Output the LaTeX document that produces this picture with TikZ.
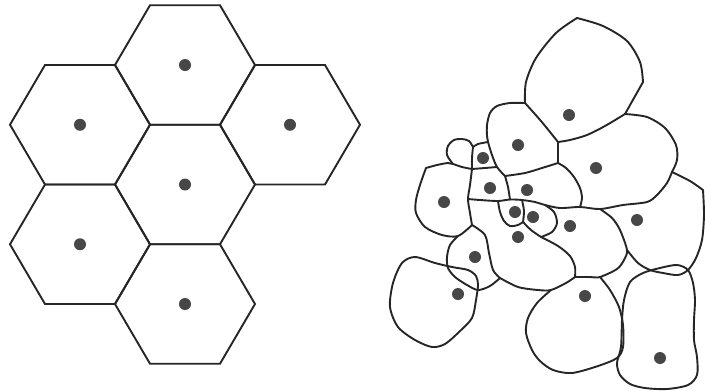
\documentclass[tikz,border=0pt]{standalone}
\usepackage{tikz}

\begin{document}
\begin{tikzpicture}[
    x=0.025cm, y=-0.025cm,
    hexcell/.style={draw=black!85, line width=1.35pt, line join=miter},
    cell/.style={draw=black!85, line width=1.35pt, line join=round, line cap=round},
    site/.style={circle, fill=black!72, inner sep=0pt, minimum size=0.3cm}
]
\useasboundingbox (0,0) rectangle (705,390);

\foreach \n/\x/\y in {a/185/65, b/80/124.75, c/290/124.75, d/185/184.5, e/80/244.25, f/185/304} {
    \draw[hexcell] (\x,\y) ++(-70,0) -- ++(35,-59.75) -- ++(70,0) -- ++(35,59.75) -- ++(-35,59.75) -- ++(-70,0) -- cycle;
    \node[site] (hex\n) at (\x,\y) {};
}

\coordinate (jA) at (525,103);
\coordinate (jB) at (558,142);
\coordinate (jC) at (625,114);
\coordinate (jE) at (558,163);
\coordinate (jF) at (505,176);
\coordinate (jG) at (672,172);
\coordinate (jH) at (600,209);
\coordinate (jI) at (580,207);
\coordinate (jJ) at (545,205);
\coordinate (jK) at (522,200);
\coordinate (jL) at (510,199.5);
\coordinate (jM) at (498,201);
\coordinate (jN) at (468,199);
\coordinate (jO) at (472,169);
\coordinate (jP) at (473,147);
\coordinate (jQ) at (488,142);
\coordinate (jR) at (497,167);
\coordinate (jS) at (453,164);
\coordinate (jT) at (523,222);
\coordinate (jU) at (541,237);
\coordinate (jV) at (575,277);
\coordinate (jW) at (600,277);
\coordinate (jX) at (627,250);
\coordinate (jY) at (703,190);
\coordinate (jZ) at (472,225);
\coordinate (j1) at (458,236);
\coordinate (j2) at (500,278);
\coordinate (j3) at (551,290);

\draw[cell] plot[smooth] coordinates {(jA) (526,82) (536,58) (556,33) (577,18)};
\draw[cell] plot[smooth] coordinates {(577,18) (603,26) (627,41) (640,62) (643,82)};
\draw[cell] (643,82) -- (jC);
\draw[cell] plot[smooth] coordinates {(jC) (605,126) (587,135) (570,140) (jB)};
\draw[cell] plot[smooth] coordinates {(jA) (541,121) (jB)};
\draw[cell] (jB) -- (jE);
\draw[cell] plot[smooth] coordinates {(jC) (647,117) (665,128) (676,145) (677,160) (jG)};

\draw[cell] plot[smooth] coordinates {(jA) (510,103) (497,106) (490,113) (487,125) (487,136) (jQ) (492,155) (jR) (jF)};
\draw[cell] plot[smooth] coordinates {(jE) (542,168) (525,173) (jF)};
\draw[cell] plot[smooth] coordinates {(jE) (566,168) (574,177) (580,188) (582,198) (jI)};
\draw[cell] plot[smooth] coordinates {(jF) (508,187) (jL)};

\draw[cell] plot[smooth] coordinates {(jN) (480,200) (jM) (jL) (jK) (535,202) (jJ) (560,208) (jI) (jH) (623,205) (647,202) (657,195) (667,183) (jG)};

\draw[cell] plot[smooth] coordinates {(jP) (478,144) (jQ)};
\draw[cell] plot[smooth] coordinates {(jP) (472,158) (jO)};
\draw[cell] plot[smooth] coordinates {(jO) (485,168) (jR)};
\draw[cell] plot[smooth] coordinates {(jP) (469,141) (462,139) (454,140) (448,146) (447,155) (jS)};

\draw[cell] plot[smooth] coordinates {(426,168) (437,165) (448,163) (jS) (462,167) (jO)};
\draw[cell] plot[smooth] coordinates {(426,168) (420,185) (416,200) (416,213) (425,227) (442,235) (j1) (jZ)};
\draw[cell] plot[smooth] coordinates {(jO) (470,185) (jN) (470,213) (jZ)};

\draw[cell] plot[smooth] coordinates {(jM) (500,212) (504,221) (510,226) (518,225) (jT)};
\draw[cell] plot[smooth] coordinates {(jK) (524,211) (jT)};
\draw[cell] plot[smooth] coordinates {(jT) (531,230) (jU)};
\draw[cell] plot[smooth] coordinates {(jJ) (554,212) (557,223) (552,232) (jU)};
\draw[cell] plot[smooth] coordinates {(jU) (558,246) (570,256) (575,267) (jV)};

\draw[cell] plot[smooth] coordinates {(jH) (612,218) (620,230) (jX) (624,260) (617,269) (jW) (590,277) (jV)};
\draw[cell] plot[smooth] coordinates {(jG) (690,181) (jY)};
\draw[cell] plot[smooth] coordinates {(jY) (704,215) (702,240) (696,258) (688,270) (678,275) (663,273) (650,270) (638,263) (jX)};

\draw[cell] plot[smooth] coordinates {(j1) (450,245) (447,257) (448,268) (455,277) (467,285) (478,290) (490,286) (j2)};
\draw[cell] plot[smooth] coordinates {(jZ) (485,235) (489,253) (493,270) (j2)};
\draw[cell] plot[smooth] coordinates {(j2) (518,287) (538,290) (j3) (566,283) (jV)};

\draw[cell] plot[smooth] coordinates {(jW) (610,290) (619,307) (623,325) (623,347) (617,358) (598,366) (572,373) (553,370) (540,361) (532,350) (526,333) (528,318) (537,303) (j3)};

\draw[cell] plot[smooth cycle] coordinates {(415,257) (402,263) (393,283) (390,307) (398,327) (415,340) (432,347) (445,344) (459,332) (472,318) (476,300) (478,285) (476,276) (468,270) (452,267) (435,263)};

\draw[cell] plot[smooth cycle] coordinates {(630,282) (643,273) (660,268) (677,265) (688,270) (693,283) (695,300) (694,320) (694,340) (697,357) (697,375) (688,385) (667,389) (645,388) (630,384) (620,375) (617,363) (621,347) (622,320) (624,300)};

\node[site] (s1) at (569,115) {};
\node[site] (s2) at (518,145) {};
\node[site] (s3) at (596,168) {};
\node[site] (s4) at (483,158) {};
\node[site] (s5) at (490,188) {};
\node[site] (s6) at (527,190) {};
\node[site] (s7) at (444,202) {};
\node[site] (s8) at (515,212) {};
\node[site] (s9) at (533,217) {};
\node[site] (s10) at (570,226) {};
\node[site] (s11) at (637,220) {};
\node[site] (s12) at (518,237) {};
\node[site] (s13) at (475,257) {};
\node[site] (s14) at (458,294) {};
\node[site] (s15) at (585,296) {};
\node[site] (s16) at (660,358) {};
\end{tikzpicture}
\end{document}
